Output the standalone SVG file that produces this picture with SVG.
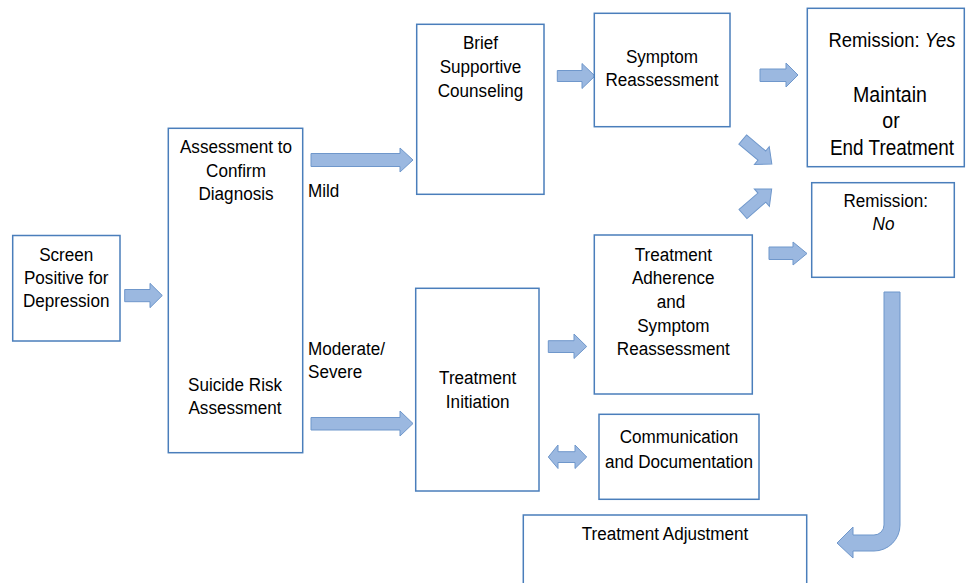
<svg xmlns="http://www.w3.org/2000/svg" width="967" height="583" viewBox="0 0 967 583">
<style>
.box{fill:#ffffff;stroke:#4a7ebb;stroke-width:1.5}
.arr{fill:#9bb8e0;stroke:#6f97cb;stroke-width:1}
text{font-family:"Liberation Sans",Arial,sans-serif;font-size:19px;fill:#000;text-anchor:middle}
.l{text-anchor:start}
.big{font-size:21.5px}
.mid{font-size:20.5px}
</style>
<rect width="967" height="583" fill="#ffffff"/>
<g id="connectors">
<path class="arr" d="M124.7,289.5 H150 V283.3 L162.3,295.5 L150,307.7 V301.7 H124.7 Z"/>
<path class="arr" d="M311,153.5 H400 V148 L413,160 L400,172 V166.5 H311 Z"/>
<path class="arr" d="M311,417.5 H400 V411 L413,423.5 L400,436 V430 H311 Z"/>
<path class="arr" d="M557.3,70.5 H582 V63.5 L595,76 L582,88.5 V81.5 H557.3 Z"/>
<path class="arr" d="M760,69 H786 V63 L798,75 L786,87 V81.5 H760 Z"/>
<path class="arr" d="M769,247 H793 V242 L807,253.5 L793,265 V259.5 H769 Z"/>
<path class="arr" d="M548.3,340.7 H574 V334 L586.7,346.5 L574,358.5 V352.5 H548.3 Z"/>
<path class="arr" d="M548.3,457 L558,445 V451.7 H575 V445 L586.7,457 L575,468.5 V462.5 H558 V468.5 Z"/>
<path class="arr" transform="translate(742.7,139.5) rotate(40)" d="M0,-6 H25 V-11.5 L38,0 L25,11.5 V6 H0 Z"/>
<path class="arr" transform="translate(743,214) rotate(-41)" d="M0,-6 H25 V-11.5 L38,0 L25,11.5 V6 H0 Z"/>
<path class="arr" d="M884,292 H900 V525 A26,26 0 0 1 874,551 H853 V558 L837,543 L853,527 V535 H874 A10,10 0 0 0 884,525 Z"/>
</g>
<g id="screen">
<rect class="box" x="12.7" y="235.5" width="107.3" height="105.5"/>
<text transform="translate(66.2,0) scale(.9,1)" x="0" y="260.7">Screen</text>
<text transform="translate(66.2,0) scale(.9,1)" x="0" y="284">Positive for</text>
<text transform="translate(66.2,0) scale(.9,1)" x="0" y="307.3">Depression</text>
</g>
<g id="assessment">
<rect class="box" x="168.3" y="128.3" width="134.4" height="324.4"/>
<text transform="translate(236,0) scale(.9,1)" x="0" y="153.3">Assessment to</text>
<text transform="translate(236,0) scale(.9,1)" x="0" y="176.7">Confirm</text>
<text transform="translate(236,0) scale(.9,1)" x="0" y="200">Diagnosis</text>
<text transform="translate(235,0) scale(.9,1)" x="0" y="391">Suicide Risk</text>
<text transform="translate(235,0) scale(.9,1)" x="0" y="414.3">Assessment</text>
</g>
<g id="labels">
<text class="l" transform="translate(308,0) scale(.9,1)" x="0" y="196.7">Mild</text>
<text class="l" transform="translate(308,0) scale(.9,1)" x="0" y="355">Moderate/</text>
<text class="l" transform="translate(308,0) scale(.9,1)" x="0" y="378.3">Severe</text>
</g>
<g id="brief">
<rect class="box" x="416.7" y="24.3" width="127.3" height="170"/>
<text transform="translate(480.5,0) scale(.9,1)" x="0" y="49.3">Brief</text>
<text transform="translate(480.5,0) scale(.9,1)" x="0" y="73.3">Supportive</text>
<text transform="translate(480.5,0) scale(.9,1)" x="0" y="96.7">Counseling</text>
</g>
<g id="symptom">
<rect class="box" x="594.3" y="13.3" width="135.7" height="113.4"/>
<text transform="translate(662,0) scale(.9,1)" x="0" y="63.3">Symptom</text>
<text transform="translate(662,0) scale(.9,1)" x="0" y="86">Reassessment</text>
</g>
<g id="remission-yes">
<rect class="box" x="807.3" y="8.3" width="157" height="158.4"/>
<text class="mid" transform="translate(892,0) scale(.9,1)" x="0" y="46.7">Remission: <tspan font-style="italic">Yes</tspan></text>
<text class="big" transform="translate(890,0) scale(.91,1)" x="0" y="101.7">Maintain</text>
<text class="big" transform="translate(891,0) scale(.91,1)" x="0" y="128">or</text>
<text class="big" transform="translate(892,0) scale(.88,1)" x="0" y="155">End Treatment</text>
</g>
<g id="remission-no">
<rect class="box" x="811.7" y="182.7" width="142.6" height="94.6"/>
<text transform="translate(885.7,0) scale(.9,1)" x="0" y="206.7">Remission:</text>
<text transform="translate(883.5,0) scale(.9,1)" x="0" y="230" font-style="italic">No</text>
</g>
<g id="adherence">
<rect class="box" x="594.3" y="235" width="158" height="159"/>
<text transform="translate(673.3,0) scale(.9,1)" x="0" y="260.7">Treatment</text>
<text transform="translate(673.3,0) scale(.9,1)" x="0" y="284">Adherence</text>
<text transform="translate(671,0) scale(.9,1)" x="0" y="308.3">and</text>
<text transform="translate(673.3,0) scale(.9,1)" x="0" y="331.7">Symptom</text>
<text transform="translate(673.3,0) scale(.9,1)" x="0" y="355">Reassessment</text>
</g>
<g id="initiation">
<rect class="box" x="415.7" y="288.3" width="123.3" height="202.7"/>
<text transform="translate(477.7,0) scale(.9,1)" x="0" y="384">Treatment</text>
<text transform="translate(477.7,0) scale(.9,1)" x="0" y="408.3">Initiation</text>
</g>
<g id="communication">
<rect class="box" x="599" y="414.3" width="160" height="85"/>
<text transform="translate(679,0) scale(.9,1)" x="0" y="443.3">Communication</text>
<text transform="translate(679,0) scale(.9,1)" x="0" y="468.3">and Documentation</text>
</g>
<g id="adjustment">
<rect class="box" x="523.3" y="515" width="283.4" height="90"/>
<text transform="translate(665,0) scale(.9,1)" x="0" y="540">Treatment Adjustment</text>
</g>
</svg>
